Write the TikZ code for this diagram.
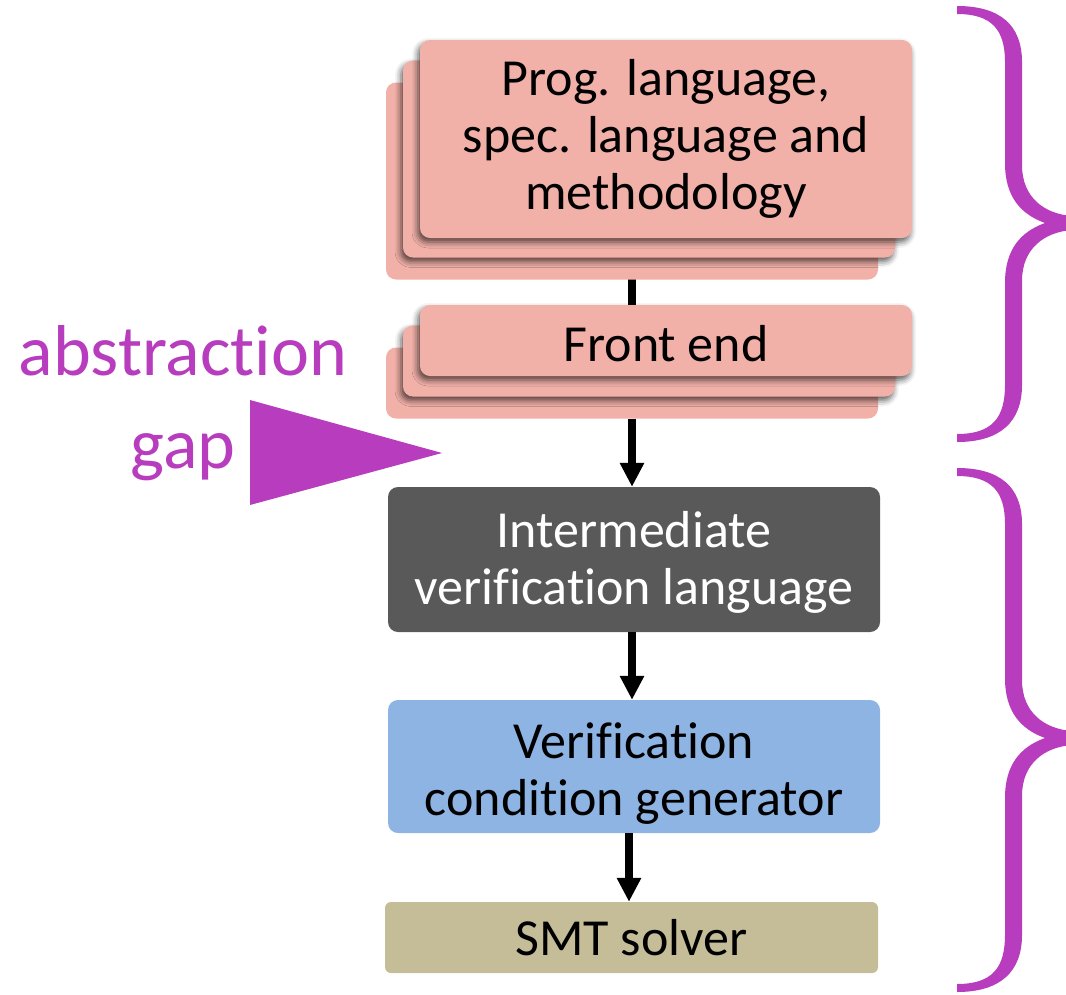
\documentclass[tikz,border=0pt]{standalone}
\usepackage{fontspec}
\setmainfont{Carlito}[RawFeature={-liga;-clig;-dlig;-calt}]
\usetikzlibrary{shadows.blur,arrows.meta}

\definecolor{salmon}{RGB}{241,176,168}
\definecolor{ivlgrey}{RGB}{89,89,89}
\definecolor{vcgblue}{RGB}{142,180,227}
\definecolor{smttan}{RGB}{196,189,151}
\definecolor{gapviolet}{RGB}{184,60,190}

% keep letter pairs apart so the font forms no ligature
\newcommand\nolig{\kern0pt{}}

\tikzset{
  stage/.style={rounded corners=10pt, inner sep=0pt, align=center,
    minimum width=492pt, font=\fontsize{52}{57}\selectfont},
  caption/.style={inner sep=0pt, align=center, font=\fontsize{52}{57}\selectfont},
  layer/.style={stage, fill=salmon},
  lifted/.style={blur shadow={shadow xshift=-2pt, shadow yshift=-4pt,
    shadow blur radius=6pt, shadow opacity=65}},
  flow/.style={line width=8pt, -{Triangle[width=23pt,length=24pt]}},
  link/.style={line width=8pt},
  bracefill/.style={fill=gapviolet, draw=none}
}

\begin{document}
\begin{tikzpicture}[x=1pt, y=-1pt]
\useasboundingbox (0,0) rectangle (1066,994);

% connector between the two stacks sits underneath them
\coordinate (linktop) at (632,270);
\coordinate (linkbot) at (632,320);
\draw[link] (linktop) -- (linkbot);

% stack of language layers
\node[layer, minimum height=197pt] (top3) at (632,181) {};
\node[layer, lifted, minimum height=197pt] (top2) at (649,159) {};
\node[layer, lifted, minimum height=198pt] (top1) at (666,139)
  {Prog. language,\\spec. language and\\methodology};

% stack of front ends
\node[layer, minimum height=71pt] (fe3) at (632,383) {};
\node[layer, lifted, minimum height=71pt] (fe2) at (649,361) {};
\node[layer, lifted, minimum height=71pt] (fe1) at (666,340.5) {};
\node[caption] (fetext) at ([yshift=-3pt]fe1.center) {Front end};

% verification pipeline
\node[stage, fill=ivlgrey, minimum height=145pt] (ivl) at (634,559.5) {};
\node[caption, text=white] (ivltext) at ([yshift=-3pt]ivl.center)
  {Intermediate\\verif\nolig icat\nolig ion language};
\node[stage, fill=vcgblue, minimum height=133pt] (vcg) at (634,766.5) {};
\node[caption] (vcgtext) at ([yshift=-7pt]vcg.center)
  {Verif\nolig icat\nolig ion\\condit\nolig ion generator};
\node[stage, fill=smttan, minimum width=493pt, minimum height=71pt, rounded corners=6pt] (smt) at (631.5,937.5)
  {SMT solver};

\draw[flow] (fe3.south -| 632,0) -- (ivl.north -| 632,0);
\draw[flow] (ivl.south -| 632,0) -- (vcg.north -| 632,0);
\draw[flow] (vcg.south -| 629,0) -- (smt.north -| 629,0);

% abstraction gap marker
\node[text=gapviolet, align=center, inner sep=0pt,
  font=\fontsize{72}{93}\selectfont] (gaplabel) at (183,403) {abstract\nolig ion\\gap};
\fill[gapviolet] (250,400) -- (442,453) -- (250,505) -- cycle;

% upper brace
\path[bracefill]
  (957,6) .. controls (1000,6) and (1022,25) .. (1022,62)
  -- (1022,165)
  .. controls (1022,198) and (1045,214) .. (1072,216)
  -- (1072,230)
  .. controls (1045,232) and (1022,248) .. (1022,281)
  -- (1022,385)
  .. controls (1022,422) and (1000,442) .. (957,442)
  -- (957,434)
  .. controls (992,434) and (1005,418) .. (1005,385)
  -- (1005,283)
  .. controls (1005,250) and (1020,232) .. (1045,223)
  .. controls (1020,214) and (1005,196) .. (1005,163)
  -- (1005,62)
  .. controls (1005,30) and (992,14) .. (957,14)
  -- cycle;

% lower brace
\path[bracefill]
  (957,468) .. controls (1000,468) and (1022,487) .. (1022,524)
  -- (1022,680)
  .. controls (1022,713) and (1045,729) .. (1072,731)
  -- (1072,745)
  .. controls (1045,747) and (1022,763) .. (1022,796)
  -- (1022,935)
  .. controls (1022,972) and (1000,992) .. (957,992)
  -- (957,984)
  .. controls (992,984) and (1005,968) .. (1005,935)
  -- (1005,798)
  .. controls (1005,765) and (1020,747) .. (1045,738)
  .. controls (1020,729) and (1005,711) .. (1005,678)
  -- (1005,524)
  .. controls (1005,492) and (992,476) .. (957,476)
  -- cycle;
\end{tikzpicture}
\end{document}
